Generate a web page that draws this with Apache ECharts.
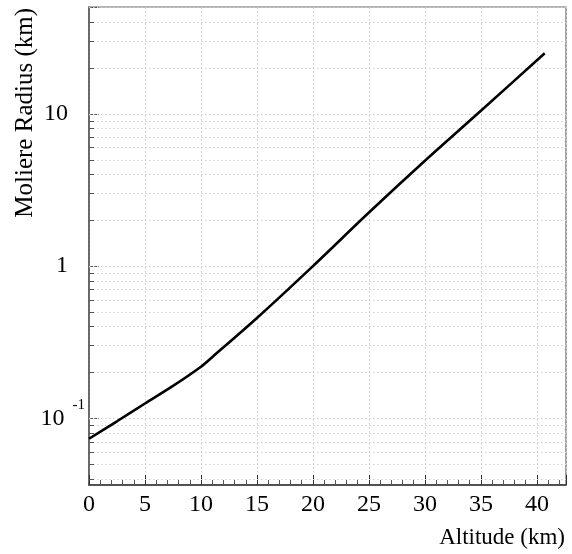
<!DOCTYPE html>
<html>
<head>
<meta charset="utf-8">
<script src="https://cdn.jsdelivr.net/npm/echarts@6/dist/echarts.min.js"></script>
<style>
html,body{margin:0;padding:0;background:#fff;}
#chart{width:572px;height:554px;}
</style>
</head>
<body>
<div id="chart"></div>
<script>
// Data
const altitudeKm = [0, 2.5, 5, 7.5, 10, 11, 15, 20, 25, 30, 35, 40.7];
const moliereRadiusKm = [0.0733, 0.0955, 0.125, 0.163, 0.218, 0.252, 0.456, 1.0, 2.25, 4.93, 10.5, 25.1];
const xTickLabels = ['0', '5', '10', '15', '20', '25', '30', '35', '40'];
const yMajorTicks = [0.1, 1, 10];
const yMinorGrid = [0.04, 0.05, 0.06, 0.07, 0.08, 0.09,
  0.2, 0.3, 0.4, 0.5, 0.6, 0.7, 0.8, 0.9,
  2, 3, 4, 5, 6, 7, 8, 9,
  20, 30, 40, 50];
const xTitle = 'Altitude (km)';
const yTitle = 'Moliere Radius (km)';

const FONT = 'Liberation Serif';
const chart = echarts.init(document.getElementById('chart'));

const points = altitudeKm.map((a, i) => [a, moliereRadiusKm[i]]);

chart.setOption({
  animation: false,
  backgroundColor: '#fff',
  grid: {
    left: 89, right: 6, top: 7, bottom: 69,
    show: true, borderColor: '#666', borderWidth: 1.2, backgroundColor: 'transparent'
  },
  xAxis: {
    type: 'value', min: 0, max: 42.6, interval: 5,
    axisLine: { show: true, lineStyle: { color: '#333', width: 1.5 } },
    axisTick: { show: true, inside: true, length: 10, lineStyle: { color: '#333' } },
    minorTick: { show: true, splitNumber: 5, length: 5, lineStyle: { color: '#555' } },
    splitLine: { show: true, lineStyle: { color: '#cfcfcf', type: [1.5, 2.5], width: 1 } },
    axisLabel: {
      margin: 8, color: '#000', fontFamily: FONT, fontSize: 24,
      formatter: function (v) {
        const s = String(Math.round(v));
        return (Math.abs(v - Math.round(v)) < 1e-6 && xTickLabels.indexOf(s) >= 0) ? s : '';
      }
    }
  },
  yAxis: {
    type: 'log', logBase: 10, min: 0.0364, max: 50.5,
    axisLine: { show: true, lineStyle: { color: '#555', width: 1.5 } },
    axisTick: { show: true, inside: true, length: 10, lineStyle: { color: '#555' } },
    splitLine: { show: false },
    axisLabel: {
      margin: 4, color: '#000', fontFamily: FONT, fontSize: 24,
      formatter: function (v) {
        if (Math.abs(v - 0.1) < 1e-9) return '{b|10}{s|-1}';
        if (Math.abs(v - 1) < 1e-9) return '{n|1}';
        if (Math.abs(v - 10) < 1e-9) return '{n|10}';
        return '';
      },
      rich: {
        n: { fontFamily: FONT, fontSize: 24, color: '#000', padding: [0, 17, 0, 0] },
        b: { fontFamily: FONT, fontSize: 24, color: '#000', padding: [0, 8, 0, 0] },
        s: { fontFamily: FONT, fontSize: 15, color: '#000', verticalAlign: 'top', padding: [0, 0, 26, 0] }
      }
    }
  },
  graphic: [
    {
      type: 'text', left: null, right: 7, top: 526,
      style: { text: xTitle, font: '23px "Liberation Serif"', fill: '#000' }
    },
    {
      type: 'text', x: 25, y: 8, rotation: Math.PI / 2,
      style: { text: yTitle, font: '25px "Liberation Serif"', fill: '#000', align: 'right', verticalAlign: 'middle' }
    }
  ],
  series: [
    {
      type: 'line', data: points, showSymbol: false, symbol: 'none', smooth: 0.3,
      lineStyle: { color: '#000', width: 2.6 },
      z: 5,
      markLine: {
        silent: true, symbol: 'none', label: { show: false },
        lineStyle: { color: '#cfcfcf', type: [1.5, 2.5], width: 1 },
        z: 1,
        data: yMajorTicks.concat(yMinorGrid).map(v => ({ yAxis: v }))
      }
    },
    {
      type: 'line', data: [], silent: true,
      markLine: {
        silent: true, symbol: 'none', label: { show: false },
        lineStyle: { color: '#555', type: 'solid', width: 1 },
        data: yMinorGrid.filter(v => v < 50).map(v => [{ coord: [0, v] }, { coord: [0.45, v] }])
      }
    }
  ]
});
</script>
</body>
</html>
